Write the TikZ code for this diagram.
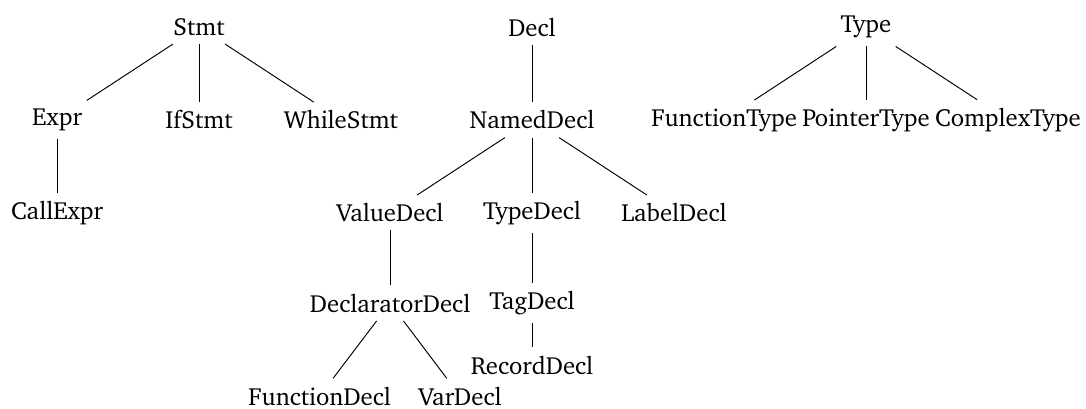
\documentclass[tikz,border=0pt]{standalone}
\usepackage[T1]{fontenc}
\usepackage{charter}
\usetikzlibrary{positioning}

\tikzset{class/.style={inner sep=3.33pt, font=\fontsize{10.4}{12.5}\selectfont}}
\tikzset{edge/.style={draw, line width=0.4pt}}

\begin{document}
\begin{tikzpicture}[x=0.42pt, y=-0.42pt, on grid, node distance=39pt and 59.6pt]
\useasboundingbox (0,0) rectangle (1086,408);

% Nodes
\node (Stmt) [class] at (199,27) {Stmt};
\node (Expr) [class, below left=of Stmt] {Expr};
\node (IfStmt) [class, below=of Stmt] {IfStmt};
\node (WhileStmt) [class, below right=of Stmt] {WhileStmt};
\node (CallExpr) [class, below=of Expr] {CallExpr};

\node (Decl) [class] at (532,27) {Decl};
\node (NamedDecl) [class, below=of Decl] {NamedDecl};
\node (ValueDecl) [class, below left=of NamedDecl] {ValueDecl};
\node (TypeDecl) [class, below=of NamedDecl] {TypeDecl};
\node (LabelDecl) [class, below right=of NamedDecl] {LabelDecl};
\node (DeclaratorDecl) [class, below=38pt of ValueDecl] {DeclaratorDecl};
\node (FunctionDecl) [class, below left=39pt and 29.6pt of DeclaratorDecl] {FunctionDecl};
\node (VarDecl) [class, below right=39pt and 29.4pt of DeclaratorDecl] {VarDecl};
\node (TagDecl) [class, below=38pt of TypeDecl] {TagDecl};
\node (RecordDecl) [class, below=26pt of TagDecl] {RecordDecl};

\node (Type) [class] at (866,27) {Type};
\node (FunctionType) [class, below left=of Type] {FunctionType};
\node (PointerType) [class, below=of Type] {PointerType};
\node (ComplexType) [class, below right=of Type] {ComplexType};

% Connectors
\draw [edge] (Stmt) -- (Expr);
\draw [edge] (Stmt) -- (IfStmt);
\draw [edge] (Stmt) -- (WhileStmt);
\draw [edge] (Expr) -- (CallExpr);

\draw [edge] (Decl) -- (NamedDecl);
\draw [edge] (NamedDecl) -- (ValueDecl);
\draw [edge] (NamedDecl) -- (TypeDecl);
\draw [edge] (NamedDecl) -- (LabelDecl);
\draw [edge] (ValueDecl) -- (DeclaratorDecl);
\draw [edge] (DeclaratorDecl) -- (FunctionDecl);
\draw [edge] (DeclaratorDecl) -- (VarDecl);
\draw [edge] (TypeDecl) -- (TagDecl);
\draw [edge] (TagDecl) -- (RecordDecl);

\draw [edge] (Type) -- (FunctionType);
\draw [edge] (Type) -- (PointerType);
\draw [edge] (Type) -- (ComplexType);

\end{tikzpicture}
\end{document}
